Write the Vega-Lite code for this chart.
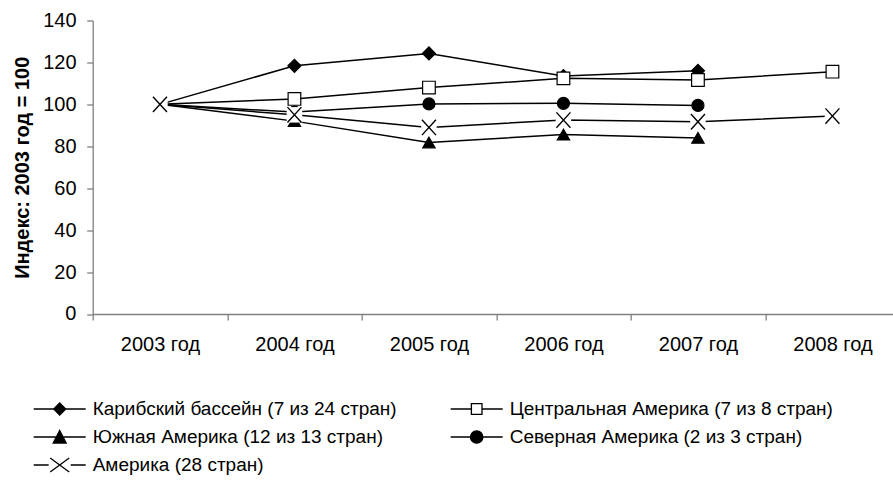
{
  "$schema": "https://vega.github.io/schema/vega-lite/v6.json",
  "width": 807,
  "height": 293.5,
  "autosize": {"type": "none"},
  "padding": {"left": 92.7, "top": 20.5, "right": 0, "bottom": 166},
  "config": {"font": "Liberation Sans", "view": {"stroke": null}, "axis": {"grid": false}},
  "data": {"values": [
    {"year": "2003 год", "series": "Карибский бассейн (7 из 24 стран)", "value": 100},
    {"year": "2004 год", "series": "Карибский бассейн (7 из 24 стран)", "value": 118.4},
    {"year": "2005 год", "series": "Карибский бассейн (7 из 24 стран)", "value": 124.3},
    {"year": "2006 год", "series": "Карибский бассейн (7 из 24 стран)", "value": 113.5},
    {"year": "2007 год", "series": "Карибский бассейн (7 из 24 стран)", "value": 116},
    {"year": "2003 год", "series": "Центральная Америка (7 из 8 стран)", "value": 100},
    {"year": "2004 год", "series": "Центральная Америка (7 из 8 стран)", "value": 102.6},
    {"year": "2005 год", "series": "Центральная Америка (7 из 8 стран)", "value": 108},
    {"year": "2006 год", "series": "Центральная Америка (7 из 8 стран)", "value": 112.4},
    {"year": "2007 год", "series": "Центральная Америка (7 из 8 стран)", "value": 111.6},
    {"year": "2008 год", "series": "Центральная Америка (7 из 8 стран)", "value": 115.6},
    {"year": "2003 год", "series": "Южная Америка (12 из 13 стран)", "value": 100},
    {"year": "2004 год", "series": "Южная Америка (12 из 13 стран)", "value": 92},
    {"year": "2005 год", "series": "Южная Америка (12 из 13 стран)", "value": 81.8},
    {"year": "2006 год", "series": "Южная Америка (12 из 13 стран)", "value": 85.6},
    {"year": "2007 год", "series": "Южная Америка (12 из 13 стран)", "value": 84},
    {"year": "2003 год", "series": "Северная Америка (2 из 3 стран)", "value": 100},
    {"year": "2004 год", "series": "Северная Америка (2 из 3 стран)", "value": 96.3},
    {"year": "2005 год", "series": "Северная Америка (2 из 3 стран)", "value": 100.2},
    {"year": "2006 год", "series": "Северная Америка (2 из 3 стран)", "value": 100.5},
    {"year": "2007 год", "series": "Северная Америка (2 из 3 стран)", "value": 99.5},
    {"year": "2003 год", "series": "Америка (28 стран)", "value": 100},
    {"year": "2004 год", "series": "Америка (28 стран)", "value": 95},
    {"year": "2005 год", "series": "Америка (28 стран)", "value": 89},
    {"year": "2006 год", "series": "Америка (28 стран)", "value": 92.5},
    {"year": "2007 год", "series": "Америка (28 стран)", "value": 91.7},
    {"year": "2008 год", "series": "Америка (28 стран)", "value": 94.4}
  ]},
  "encoding": {
    "x": {
      "field": "year", "type": "ordinal",
      "scale": {"type": "band", "paddingInner": 0, "paddingOuter": 0, "domain": ["2003 год", "2004 год", "2005 год", "2006 год", "2007 год", "2008 год"]},
      "axis": {"title": null, "labelAngle": 0, "tickBand": "extent", "tickSize": 6, "labelPadding": 15, "labelFontSize": 20, "labelColor": "black", "domainColor": "#808080", "tickColor": "#808080", "domainWidth": 1.3, "tickWidth": 1.3}
    },
    "y": {
      "field": "value", "type": "quantitative",
      "scale": {"domain": [0, 140], "nice": false},
      "axis": {"title": "Индекс: 2003 год = 100", "titleFontSize": 20, "titleFontWeight": "bold", "titleColor": "black", "titlePadding": 10, "values": [0, 20, 40, 60, 80, 100, 120, 140], "tickSize": 6, "labelPadding": 10.7, "labelFontSize": 20, "labelColor": "black", "domainColor": "#808080", "tickColor": "#808080", "domainWidth": 1.3, "tickWidth": 1.3, "labelOverlap": false}
    }
  },
  "layer": [
    {
      "mark": {"type": "line", "color": "black", "strokeWidth": 1.5},
      "encoding": {"detail": {"field": "series", "type": "nominal"}}
    },
    {
      "transform": [{"filter": "datum.series !== 'Америка (28 стран)'"}],
      "mark": {"type": "point", "stroke": "black", "strokeWidth": 1.2, "opacity": 1},
      "encoding": {
        "shape": {"field": "series", "type": "nominal", "legend": null,
          "scale": {"domain": ["Карибский бассейн (7 из 24 стран)", "Центральная Америка (7 из 8 стран)", "Южная Америка (12 из 13 стран)", "Северная Америка (2 из 3 стран)"],
                    "range": ["diamond", "square", "triangle-up", "circle"]}},
        "fill": {"field": "series", "type": "nominal", "legend": null,
          "scale": {"domain": ["Карибский бассейн (7 из 24 стран)", "Центральная Америка (7 из 8 стран)", "Южная Америка (12 из 13 стран)", "Северная Америка (2 из 3 стран)"],
                    "range": ["black", "white", "black", "black"]}},
        "size": {"field": "series", "type": "nominal", "legend": null,
          "scale": {"domain": ["Карибский бассейн (7 из 24 стран)", "Центральная Америка (7 из 8 стран)", "Южная Америка (12 из 13 стран)", "Северная Америка (2 из 3 стран)"],
                    "range": [169, 144, 169, 150]}}
      }
    },
    {
      "transform": [{"filter": "datum.series === 'Америка (28 стран)'"}],
      "mark": {"type": "point", "shape": "square", "size": 240, "filled": true, "color": "white", "opacity": 1, "strokeWidth": 0}
    },
    {
      "transform": [{"filter": "datum.series === 'Америка (28 стран)'"}],
      "mark": {"type": "point", "shape": "M-1,-1.1L1,1.1M-1,1.1L1,-1.1", "size": 196, "filled": false, "color": "black", "strokeWidth": 1.4, "opacity": 1}
    },
    {
      "transform": [{"filter": "datum.value < 0"}],
      "mark": {"type": "point", "stroke": "black", "strokeWidth": 1.3, "size": 400, "opacity": 1},
      "encoding": {
        "shape": {"field": "series", "type": "nominal",
          "scale": {"domain": ["Карибский бассейн (7 из 24 стран)", "Центральная Америка (7 из 8 стран)", "Южная Америка (12 из 13 стран)", "Северная Америка (2 из 3 стран)", "Америка (28 стран)"],
                    "range": [
                      "M-2.6,0H2.6M0,-0.6L0.6,0L0,0.6L-0.6,0Z",
                      "M-2.6,0H-0.53M0.53,0H2.6M-0.53,-0.53H0.53V0.53H-0.53Z",
                      "M-2.6,0H2.6M0,-0.65L0.65,0.6L-0.65,0.6Z",
                      "M-2.6,0H2.6M0.62,0A0.62,0.62,0,1,1,-0.62,0A0.62,0.62,0,1,1,0.62,0Z",
                      "M-2.6,0H-1.1M1.1,0H2.6M-0.95,-0.7L0.95,0.7M-0.95,0.7L0.95,-0.7"
                    ]},
          "legend": {"title": null, "orient": "none", "legendX": -44, "legendY": 377.5, "direction": "horizontal", "columns": 2, "labelFontSize": 19, "labelColor": "black", "labelLimit": 500, "symbolSize": 400, "symbolStrokeWidth": 1.3, "symbolStrokeColor": "black", "labelOffset": 22, "rowPadding": 7, "columnPadding": 50, "padding": 0, "symbolOpacity": 1,
            "encode": {"symbols": {"update": {"stroke": {"value": "black"}, "strokeWidth": {"value": 1.3}, "opacity": {"value": 1}}}}}},
        "fill": {"field": "series", "type": "nominal",
          "scale": {"domain": ["Карибский бассейн (7 из 24 стран)", "Центральная Америка (7 из 8 стран)", "Южная Америка (12 из 13 стран)", "Северная Америка (2 из 3 стран)", "Америка (28 стран)"],
                    "range": ["black", "white", "black", "black", "transparent"]},
          "legend": {"title": null, "orient": "none", "legendX": -44, "legendY": 377.5, "direction": "horizontal", "columns": 2, "labelFontSize": 19, "labelColor": "black", "labelLimit": 500, "symbolSize": 400, "symbolStrokeWidth": 1.3, "symbolStrokeColor": "black", "labelOffset": 22, "rowPadding": 7, "columnPadding": 50, "padding": 0, "symbolOpacity": 1,
            "encode": {"symbols": {"update": {"stroke": {"value": "black"}, "strokeWidth": {"value": 1.3}, "opacity": {"value": 1}}}}}}
      }
    }
  ],
  "resolve": {"scale": {"shape": "independent", "fill": "independent", "size": "independent"}}
}
